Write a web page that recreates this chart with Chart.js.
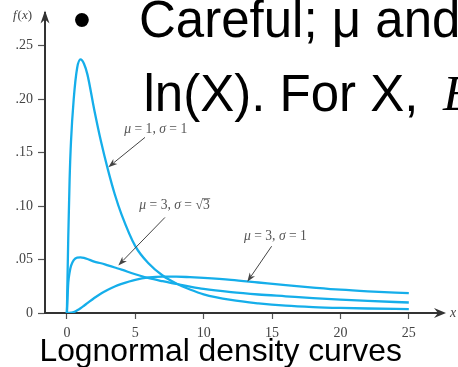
<!DOCTYPE html>
<html><head><meta charset="utf-8">
<script src="https://cdn.jsdelivr.net/npm/chart.js@4/dist/chart.umd.min.js"></script>
<style>
html,body{margin:0;padding:0;background:#fff;width:458px;height:367px;overflow:hidden;position:relative;}
#c{position:absolute;left:0;top:0;}
.t{position:absolute;font-family:"Liberation Sans",Arial,sans-serif;color:#000;line-height:1;white-space:nowrap;}
</style></head><body>
<canvas id="c" width="458" height="367"></canvas>
<div class="t" style="left:73px;top:-6.5px;font-size:51px;">•</div>
<div class="t" style="left:139px;top:-6.5px;font-size:51px;">Careful; μ and σ are the mean</div>
<div class="t" style="left:143.5px;top:67.5px;font-size:51px;">ln(X). For X,</div>
<div class="t" style="left:443px;top:67.5px;font-size:51px;font-family:'Liberation Serif',serif;font-style:italic;">E(X)</div>
<div class="t" style="left:39.5px;top:335px;font-size:31.8px;">Lognormal density curves</div>
<script>
// ---- data ----
const xValues = [0, 0.1, 0.2, 0.3, 0.5, 0.75, 1, 1.25, 1.5, 2, 2.5, 3, 3.5, 4, 5, 6, 7, 8, 9, 10, 12, 14, 16, 18, 20, 22, 25];
const mu1sigma1 = [0, 0.07, 0.125, 0.16, 0.2, 0.229, 0.237, 0.233, 0.223, 0.19, 0.16, 0.134, 0.111, 0.092, 0.0625, 0.046, 0.035, 0.0275, 0.022, 0.0175, 0.0122, 0.009, 0.0068, 0.0055, 0.0047, 0.0042, 0.0037];
const mu3sigmaRoot3 = [0, 0.028, 0.038, 0.044, 0.0495, 0.0518, 0.052, 0.0515, 0.0505, 0.048, 0.0465, 0.0445, 0.0425, 0.0405, 0.0362, 0.0325, 0.0297, 0.0272, 0.0247, 0.0225, 0.0195, 0.0173, 0.0156, 0.0139, 0.0125, 0.0113, 0.0098];
const mu3sigma1 = [0, 0, 0.0001, 0.0003, 0.0009, 0.0025, 0.0045, 0.0068, 0.0092, 0.014, 0.0183, 0.0218, 0.0248, 0.0272, 0.031, 0.0332, 0.034, 0.034, 0.0335, 0.0328, 0.031, 0.0285, 0.026, 0.0238, 0.0218, 0.0203, 0.0185];
const seriesLabels = ['μ = 1, σ = 1', 'μ = 3, σ = √3', 'μ = 3, σ = 1'];
const xTicks = [0, 5, 10, 15, 20, 25];
const yTicks = [0, 0.05, 0.10, 0.15, 0.20, 0.25];
const yTickLabels = ['0', '.05', '.10', '.15', '.20', '.25'];

// ---- annotation placement (data coordinates) ----
const annotations = {
  labels: [ {x: 4.2, y: 0.1715}, {x: 5.3, y: 0.1005}, {x: 12.95, y: 0.0714} ],
  arrows: [
    {from: {x: 5.71, y: 0.1641}, to: {x: 3.03, y: 0.1363}},
    {from: {x: 7.17, y: 0.0893}, to: {x: 3.76, y: 0.0445}},
    {from: {x: 14.97, y: 0.0624}, to: {x: 13.19, y: 0.0292}}
  ]
};

const BLUE = '#15aeea';
const serif = '"Liberation Serif","Times New Roman",serif';

function mk(ys){ return xValues.map((x,i)=>({x:x, y:ys[i]})); }

function drawMixed(ctx, text, x, y){
  let cx = x;
  for (let i=0;i<text.length;i++){
    const ch = text[i];
    const ital = (ch==='μ'||ch==='σ');
    ctx.font = (ital?'italic ':'') + '13.6px ' + serif;
    if (ch==='√'){
      ctx.fillText(ch, cx, y);
      const w = ctx.measureText(ch).width;
      const nxt = text[i+1];
      const w2 = ctx.measureText(nxt).width;
      ctx.save(); ctx.strokeStyle = ctx.fillStyle; ctx.lineWidth=0.8;
      ctx.beginPath(); ctx.moveTo(cx+w-0.5, y-6.8); ctx.lineTo(cx+w+w2+0.5, y-6.8); ctx.stroke(); ctx.restore();
      cx += w;
      continue;
    }
    ctx.fillText(ch, cx, y);
    cx += ctx.measureText(ch).width;
  }
}

const annotPlugin = {
  id: 'annot',
  afterDraw(chart){
    const ctx = chart.ctx, sx = chart.scales.x, sy = chart.scales.y, ca = chart.chartArea;
    ctx.save();
    // axis arrowheads
    ctx.fillStyle = '#333';
    const ax = ca.right + 6, ay = sy.getPixelForValue(0);
    ctx.beginPath(); ctx.moveTo(ax, ay); ctx.lineTo(ax-12, ay-5); ctx.lineTo(ax-8, ay); ctx.lineTo(ax-12, ay+5); ctx.closePath(); ctx.fill();
    const bx = ca.left, by = ca.top - 3;
    ctx.beginPath(); ctx.moveTo(bx, by); ctx.lineTo(bx-4.5, by+13); ctx.lineTo(bx, by+9); ctx.lineTo(bx+4.5, by+13); ctx.closePath(); ctx.fill();
    // axis titles
    ctx.fillStyle = '#444';
    ctx.textBaseline = 'middle'; ctx.textAlign = 'left';
    ctx.font = 'italic 13px ' + serif;
    ctx.fillText('f', 13, 16);
    const fw = ctx.measureText('f').width;
    ctx.font = '13px ' + serif; ctx.fillText('(', 13+fw+1, 16);
    const pw = ctx.measureText('(').width;
    ctx.font = 'italic 13px ' + serif; ctx.fillText('x', 13+fw+1+pw, 16);
    const xw = ctx.measureText('x').width;
    ctx.font = '13px ' + serif; ctx.fillText(')', 13+fw+1+pw+xw, 16);
    ctx.font = 'italic 14px ' + serif;
    ctx.fillText('x', ca.right + 10, ay);
    // curve labels
    ctx.fillStyle = '#555';
    ctx.textBaseline = 'middle';
    annotations.labels.forEach((p,i)=>{
      drawMixed(ctx, seriesLabels[i], sx.getPixelForValue(p.x), sy.getPixelForValue(p.y));
    });
    // arrows
    ctx.strokeStyle = '#444'; ctx.fillStyle = '#444'; ctx.lineWidth = 1;
    annotations.arrows.forEach(a=>{
      const x1 = sx.getPixelForValue(a.from.x), y1 = sy.getPixelForValue(a.from.y);
      const x2 = sx.getPixelForValue(a.to.x), y2 = sy.getPixelForValue(a.to.y);
      const ang = Math.atan2(y2-y1, x2-x1);
      const L = 9, W = 3.2;
      const bxp = x2 - L*Math.cos(ang), byp = y2 - L*Math.sin(ang);
      ctx.beginPath(); ctx.moveTo(x1,y1); ctx.lineTo(bxp + 2*Math.cos(ang), byp + 2*Math.sin(ang)); ctx.stroke();
      ctx.beginPath(); ctx.moveTo(x2,y2);
      ctx.lineTo(bxp - W*Math.sin(ang), byp + W*Math.cos(ang));
      ctx.lineTo(bxp + 2.5*Math.cos(ang), byp + 2.5*Math.sin(ang));
      ctx.lineTo(bxp + W*Math.sin(ang), byp - W*Math.cos(ang));
      ctx.closePath(); ctx.fill();
    });
    ctx.restore();
  }
};

const lineDs = (label, ys) => ({
  label: label, data: mk(ys), borderColor: BLUE, borderWidth: 2.3,
  pointRadius: 0, fill: false, tension: 0.4, cubicInterpolationMode: 'monotone'
});

new Chart(document.getElementById('c'), {
  type: 'line',
  data: { datasets: [
    lineDs(seriesLabels[0], mu1sigma1),
    lineDs(seriesLabels[1], mu3sigmaRoot3),
    lineDs(seriesLabels[2], mu3sigma1)
  ]},
  options: {
    responsive: false, animation: false, devicePixelRatio: 1,
    layout: { padding: { top: 11, right: 18, left: 0, bottom: 0 } },
    plugins: { legend: { display: false }, tooltip: { enabled: false }, title: { display: false } },
    scales: {
      x: {
        type: 'linear', min: -1.6, max: 27.28,
        afterBuildTicks: s => { s.ticks = xTicks.map(v => ({ value: v })); },
        afterFit: s => { s.height = 54; },
        ticks: { font: { family: 'Liberation Serif', size: 14 }, color: '#444', padding: 6, maxRotation: 0, autoSkip: false },
        grid: { drawOnChartArea: false, drawTicks: true, tickLength: 6, tickColor: '#555', tickWidth: 1.2 },
        border: { display: true, color: '#333', width: 2 }
      },
      y: {
        type: 'linear', min: 0, max: 0.28,
        afterBuildTicks: s => { s.ticks = yTicks.map(v => ({ value: v })); },
        afterFit: s => { s.width = 45; },
        ticks: { font: { family: 'Liberation Serif', size: 14 }, color: '#444', padding: 5,
                 callback: (v) => { const i = yTicks.findIndex(t => Math.abs(t - v) < 1e-9); return i >= 0 ? yTickLabels[i] : ''; } },
        grid: { drawOnChartArea: false, drawTicks: true, tickLength: 7, tickColor: '#555', tickWidth: 1.2 },
        border: { display: true, color: '#333', width: 2 }
      }
    }
  },
  plugins: [annotPlugin]
});
</script>
</body></html>
